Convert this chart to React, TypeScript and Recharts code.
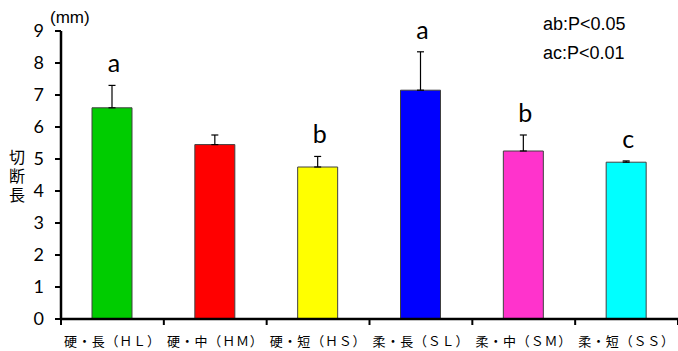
import { BarChart, Bar, XAxis, YAxis, ErrorBar, LabelList, Cell } from "recharts";

// cut length by hardness / length group
const groups = ["硬・長（ＨＬ）", "硬・中（ＨＭ）", "硬・短（ＨＳ）", "柔・長（ＳＬ）", "柔・中（ＳＭ）", "柔・短（ＳＳ）"];
const means = [6.6, 5.45, 4.75, 7.15, 5.25, 4.9];
const errors = [0.7, 0.3, 0.33, 1.2, 0.5, 0.04];
const letters = ["a", "", "b", "a", "b", "c"];
const colors = ["#00CC00", "#FF0000", "#FFFF00", "#0000FF", "#FF33CC", "#00FFFF"];
const yTicks = [0, 1, 2, 3, 4, 5, 6, 7, 8, 9];
const yTitle = "切断長";

const data = groups.map((name, i) => ({
  name,
  value: means[i],
  err: [0, errors[i]],
  sig: letters[i],
  color: colors[i],
}));

const CJK = '"Noto Sans CJK JP", sans-serif';
const SANS = '"Liberation Sans", Arial, sans-serif';

const GroupTick = (props: any) => {
  const { x, y, payload, index } = props;
  const half = payload && payload.offset ? payload.offset : 51.4;
  return (
    <g>
      <line x1={x - half} y1={y} x2={x - half} y2={y + 6} stroke="#000" strokeWidth={2} />
      {index === groups.length - 1 && (
        <line x1={x + half} y1={y} x2={x + half} y2={y + 6} stroke="#000" strokeWidth={2} />
      )}
      <text x={x} y={y + 27} textAnchor="middle" fontFamily={CJK} fontSize={13} letterSpacing={0.8} fill="#000">
        {payload.value}
      </text>
    </g>
  );
};

// significance letter sits above the top of the error bar
const SigLabel = (props: any) => {
  const { x, y, width, height, value, index } = props;
  if (!value) return null;
  const pxPerUnit = height / means[index];
  const top = y - errors[index] * pxPerUnit;
  return (
    <text x={x + width / 2 + 2} y={top - 13} textAnchor="middle" fontFamily="Lato, sans-serif" fontSize={25} fill="#000">
      {value}
    </text>
  );
};

export default function App() {
  return (
    <div style={{ position: "absolute", left: 0, top: 0, background: "#fff" }}>
      <BarChart
        width={678}
        height={351}
        data={data}
        margin={{ top: 31, right: 0, bottom: 0, left: 0 }}
        barSize={40}
      >
        <XAxis
          dataKey="name"
          interval={0}
          height={32}
          tickSize={0}
          tickMargin={0}
          tickLine={false}
          axisLine={{ stroke: "#000", strokeWidth: 2.5 }}
          tick={<GroupTick />}
        />
        <YAxis
          width={61}
          domain={[0, 9]}
          ticks={yTicks}
          interval={0}
          tickSize={6}
          tickMargin={11}
          axisLine={{ stroke: "#000", strokeWidth: 2.5 }}
          tickLine={{ stroke: "#000", strokeWidth: 2 }}
          tick={{ fill: "#000", fontSize: 18, fontFamily: "Lato, sans-serif" }}
        />
        <Bar dataKey="value" isAnimationActive={false} stroke="#404040" strokeWidth={1}>
          {data.map((d, i) => (
            <Cell key={i} fill={d.color} />
          ))}
          <ErrorBar dataKey="err" width={3.5} stroke="#000" strokeWidth={1.2} direction="y" />
          <LabelList dataKey="sig" content={<SigLabel />} />
        </Bar>
        <text x={50} y={23} fontFamily={SANS} fontSize={17} fill="#000">
          (mm)
        </text>
        {/* vertical axis title, written top to bottom */}
        <text
          x={17}
          y={149}
          fontFamily={CJK}
          fontSize={16}
          letterSpacing={3}
          fill="#000"
          style={{ writingMode: "vertical-rl" }}
        >
          {yTitle}
        </text>
        <text x={543} y={30} fontFamily={SANS} fontSize={18} fill="#000">
          ab:P&lt;0.05
        </text>
        <text x={543} y={59} fontFamily={SANS} fontSize={18} fill="#000">
          ac:P&lt;0.01
        </text>
      </BarChart>
    </div>
  );
}
